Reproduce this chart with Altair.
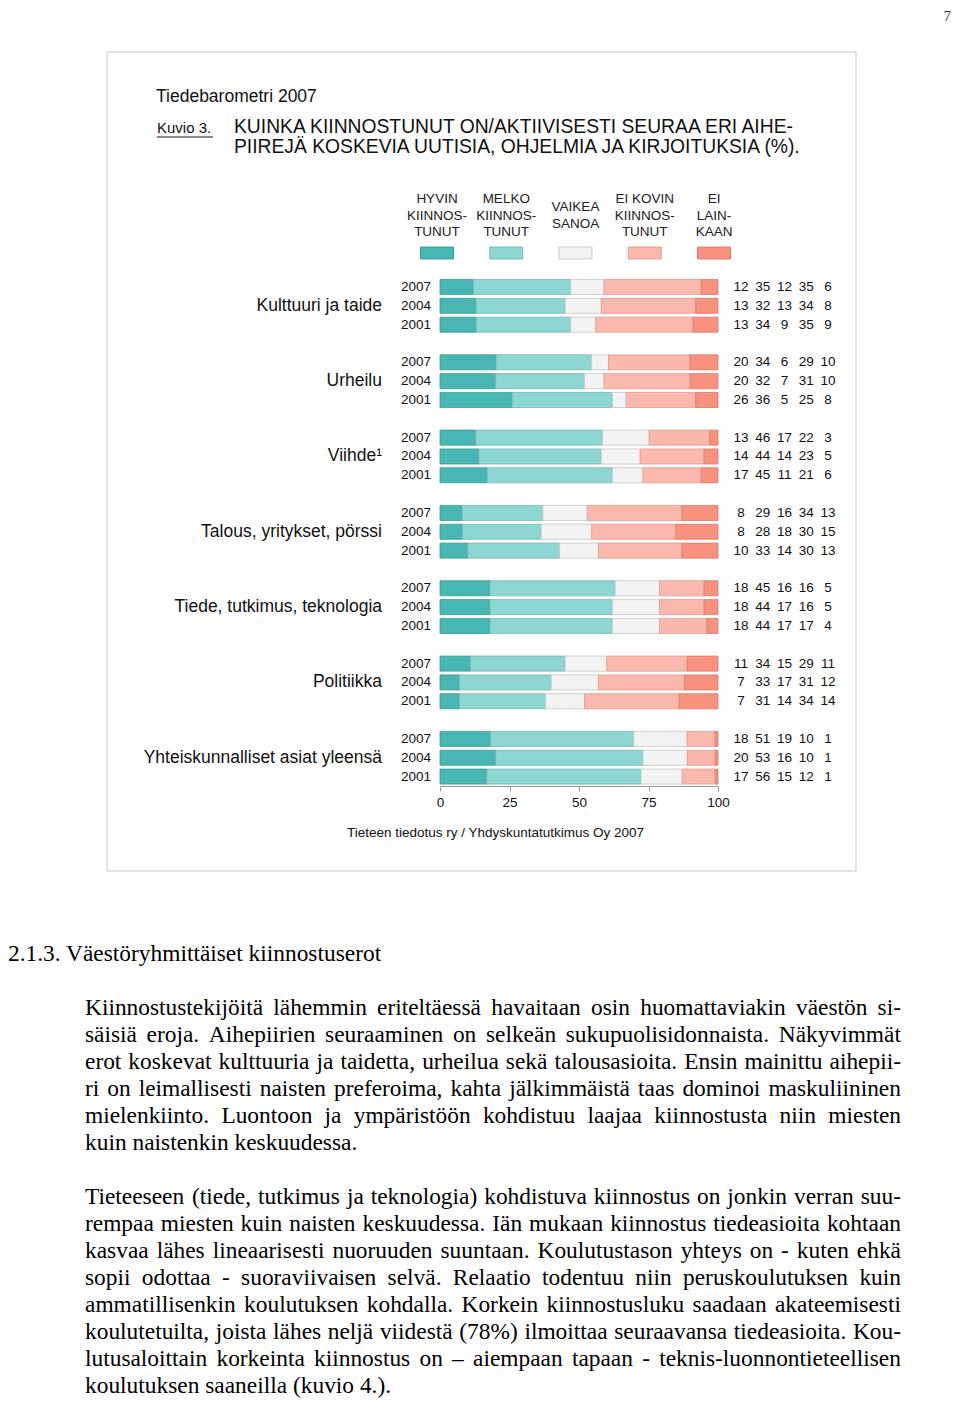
import altair as alt
import pandas as pd

# ---------------- data ----------------
topics = ["Kulttuuri ja taide", "Urheilu", "Viihde¹", "Talous, yritykset, pörssi",
          "Tiede, tutkimus, teknologia", "Politiikka", "Yhteiskunnalliset asiat yleensä"]
years = ["2007", "2004", "2001"]
cat_names = ["Hyvin kiinnostunut", "Melko kiinnostunut", "Vaikea sanoa",
             "Ei kovin kiinnostunut", "Ei lainkaan"]
cat_heads = ["HYVIN\nKIINNOS-\nTUNUT", "MELKO\nKIINNOS-\nTUNUT", "VAIKEA\nSANOA",
             "EI KOVIN\nKIINNOS-\nTUNUT", "EI\nLAIN-\nKAAN"]
# values per topic (2007, 2004, 2001)
hyvin   = [12, 13, 13, 20, 20, 26, 13, 14, 17,  8,  8, 10, 18, 18, 18, 11,  7,  7, 18, 20, 17]
melko   = [35, 32, 34, 34, 32, 36, 46, 44, 45, 29, 28, 33, 45, 44, 44, 34, 33, 31, 51, 53, 56]
vaikea  = [12, 13,  9,  6,  7,  5, 17, 14, 11, 16, 18, 14, 16, 17, 17, 15, 17, 14, 19, 16, 15]
eikovin = [35, 34, 35, 29, 31, 25, 22, 23, 21, 34, 30, 30, 16, 16, 17, 29, 31, 34, 10, 10, 12]
eilain  = [ 6,  8,  9, 10, 10,  8,  3,  5,  6, 13, 15, 13,  5,  5,  4, 11, 12, 14,  1,  1,  1]
axis_ticks = [0, 25, 50, 75, 100]

para1 = [
    "Kiinnostustekijöitä lähemmin eriteltäessä havaitaan osin huomattaviakin väestön si-",
    "säisiä eroja. Aihepiirien seuraaminen on selkeän sukupuolisidonnaista. Näkyvimmät",
    "erot koskevat kulttuuria ja taidetta, urheilua sekä talousasioita. Ensin mainittu aihepii-",
    "ri on leimallisesti naisten preferoima, kahta jälkimmäistä taas dominoi maskuliininen",
    "mielenkiinto. Luontoon ja ympäristöön kohdistuu laajaa kiinnostusta niin miesten",
    "kuin naistenkin keskuudessa.",
]
para2 = [
    "Tieteeseen (tiede, tutkimus ja teknologia) kohdistuva kiinnostus on jonkin verran suu-",
    "rempaa miesten kuin naisten keskuudessa. Iän mukaan kiinnostus tiedeasioita kohtaan",
    "kasvaa lähes lineaarisesti nuoruuden suuntaan. Koulutustason yhteys on - kuten ehkä",
    "sopii odottaa - suoraviivaisen selvä. Relaatio todentuu niin peruskoulutuksen kuin",
    "ammatillisenkin koulutuksen kohdalla. Korkein kiinnostusluku saadaan akateemisesti",
    "koulutetuilta, joista lähes neljä viidestä (78%) ilmoittaa seuraavansa tiedeasioita. Kou-",
    "lutusaloittain korkeinta kiinnostus on – aiempaan tapaan - teknis-luonnontieteellisen",
    "koulutuksen saaneilla (kuvio 4.).",
]

# ---------------- styling ----------------
colors = ["#48b6b2", "#8ed6d2", "#f3f3f3", "#fbb8ac", "#f8927f"]
strokes = ["#3a9d99", "#74bdb9", "#c8c8c8", "#e39d90", "#da7b6b"]
SANS = "Liberation Sans, Arial, sans-serif"
SERIF = "Liberation Serif, Times New Roman, serif"
W, H = 944, 1392


def P(v):
    """page pixel -> chart pixel (8px page margin)"""
    return v - 8


series = [hyvin, melko, vaikea, eikovin, eilain]
rows = []
for ti, t in enumerate(topics):
    for yi, yr in enumerate(years):
        for ci, c in enumerate(cat_names):
            rows.append(dict(topic=t, ti=ti, year=yr, yi=yi, cat=c, ci=ci,
                             value=series[ci][ti * 3 + yi]))
df = pd.DataFrame(rows)
legend_df = pd.DataFrame({"cat": cat_names, "head": cat_heads})
topic_df = pd.DataFrame({"topic": topics, "ti": list(range(len(topics)))})
one = pd.DataFrame({"a": [0]})

ROW_STEP = 18.83
XS = alt.Scale(domain=[0, 100], range=[P(440), P(718)], nice=False, zero=False)
YS = alt.Scale(domain=[0, 26], range=[P(287), P(287) + 26 * ROW_STEP], nice=False, zero=False)
CS = alt.Scale(domain=cat_names, range=colors)
SS = alt.Scale(domain=cat_names, range=strokes)
HX = alt.Scale(type="point", domain=cat_names, range=[P(437), P(714)], padding=0)
NX = alt.Scale(type="point", domain=cat_names, range=[P(741), P(828)], padding=0)

AXIS_Y = P(786)
HEAD_LH = 16.5


def label(text, x, y, size, font=SANS, align="left", baseline="middle", color="#111", **kw):
    return alt.Chart(one).mark_text(text=text, align=align, baseline=baseline, font=font,
                                    fontSize=size, color=color, **kw).encode(
        x=alt.value(x), y=alt.value(y))


box = alt.Chart(one).mark_rect(fill="white", stroke="#c8c8c8", strokeWidth=1).encode(
    x=alt.value(P(107)), x2=alt.value(P(856)), y=alt.value(P(52)), y2=alt.value(P(871)))

t_baro = label("Tiedebarometri 2007", P(156), P(97), 17.5)
t_kuvio = label("Kuvio 3.", P(157), P(128), 15)
kuvio_line = alt.Chart(one).mark_rule(color="#111", strokeWidth=1).encode(
    x=alt.value(P(157)), x2=alt.value(P(213)), y=alt.value(P(137)))
t_title1 = label("KUINKA KIINNOSTUNUT ON/AKTIIVISESTI SEURAA ERI AIHE-", P(234), P(127), 19.3)
t_title2 = label("PIIREJÄ KOSKEVIA UUTISIA, OHJELMIA JA KIRJOITUKSIA (%).", P(234), P(147), 19.3)

heads = alt.Chart(legend_df).transform_calculate(
    nl="length(split(datum.head, '\\n'))"
).transform_calculate(
    hy=f"{P(199)} + (3 - datum.nl) * {HEAD_LH} / 2"
).mark_text(
    lineBreak="\n", lineHeight=HEAD_LH, fontSize=13.5, font=SANS, color="#222",
    align="center", baseline="middle").encode(
    x=alt.X("cat:N", scale=HX, axis=None), y=alt.Y("hy:Q", scale=None), text="head:N")

swatches = alt.Chart(legend_df).mark_point(
    shape="M-1,-0.36L1,-0.36L1,0.36L-1,0.36Z", size=33 ** 2, filled=True, opacity=1,
    strokeWidth=1).encode(
    x=alt.X("cat:N", scale=HX, axis=None), y=alt.value(P(253)),
    color=alt.Color("cat:N", scale=CS, legend=None),
    stroke=alt.Stroke("cat:N", scale=SS, legend=None))

base = alt.Chart(df).transform_calculate(row="datum.ti * 4 + datum.yi")

bars = base.transform_joinaggregate(
    total="sum(value)", groupby=["topic", "year"]
).transform_window(
    cum="sum(value)", groupby=["topic", "year"], sort=[alt.SortField("ci")], frame=[None, 0]
).transform_calculate(
    x0="(datum.cum - datum.value) / datum.total * 100",
    x1="datum.cum / datum.total * 100",
    y0="datum.row - 0.4", y1="datum.row + 0.4"
).mark_rect(strokeWidth=0.8).encode(
    x=alt.X("x0:Q", scale=XS, axis=alt.Axis(
        values=axis_ticks, orient="bottom", offset=-(H - AXIS_Y), grid=False, title=None,
        domainColor="#9a9a9a", tickColor="#9a9a9a", tickSize=5, labelFontSize=13.5,
        labelFont=SANS, labelColor="#111", labelPadding=4, labelFlush=False, zindex=2)),
    x2="x1:Q",
    y=alt.Y("y0:Q", scale=YS, axis=None), y2="y1:Q",
    color=alt.Color("cat:N", scale=CS, legend=None),
    stroke=alt.Stroke("cat:N", scale=SS, legend=None))

year_labels = base.transform_filter("datum.ci == 0").mark_text(
    align="right", baseline="middle", fontSize=13.5, font=SANS, color="#111").encode(
    x=alt.value(P(431)), y=alt.Y("row:Q", scale=YS, axis=None), text="year:N")

numbers = base.mark_text(
    align="center", baseline="middle", fontSize=13.5, font=SANS, color="#111").encode(
    x=alt.X("cat:N", scale=NX, axis=None), y=alt.Y("row:Q", scale=YS, axis=None),
    text="value:Q")

topic_labels = alt.Chart(topic_df).transform_calculate(row="datum.ti * 4 + 1").mark_text(
    align="right", baseline="middle", fontSize=17.5, font=SANS, color="#111").encode(
    x=alt.value(P(382)), y=alt.Y("row:Q", scale=YS, axis=None), text="topic:N")

source = label("Tieteen tiedotus ry / Yhdyskuntatutkimus Oy 2007", P(495.5), P(833), 13.5,
               align="center")

page_no = label("7", W - 1, 1, 15, font=SERIF, align="right", baseline="top", color="#333")
heading = label("2.1.3. Väestöryhmittäiset kiinnostuserot", 0, P(954), 23.4, font=SERIF,
                color="#000")

# ---- justified body text (Times metrics) ----
TW = {' ': 250, '!': 333, '(': 333, ')': 333, '%': 833, ',': 250, '-': 333, '.': 250,
      ':': 278, '–': 500, 'ä': 444, 'ö': 500, 'Ä': 722, 'Ö': 722}
TW.update({d: 500 for d in "0123456789"})
TW.update(dict(zip("ABCDEFGHIJKLMNOPQRSTUVWXYZ",
                   [722, 667, 667, 722, 611, 556, 722, 722, 333, 389, 722, 611, 889, 722, 722,
                    556, 722, 667, 556, 611, 722, 722, 944, 722, 722, 611])))
TW.update(dict(zip("abcdefghijklmnopqrstuvwxyz",
                   [444, 500, 444, 500, 444, 333, 500, 500, 278, 278, 500, 278, 778, 500, 500,
                    500, 500, 333, 389, 278, 500, 500, 722, 500, 500, 444])))
BODY_SIZE = 23.4
LEFT, RIGHT = P(85), P(901)


def wwidth(s):
    return sum(TW.get(ch, 500) for ch in s) / 1000 * BODY_SIZE


words = []
line_no = 0
for para in (para1, para2):
    for i, line in enumerate(para):
        ws = line.split(" ")
        last = i == len(para) - 1
        if last or len(ws) == 1:
            gap = wwidth(" ")
        else:
            gap = (RIGHT - LEFT - sum(wwidth(w) for w in ws)) / (len(ws) - 1)
        x = LEFT
        for w in ws:
            words.append(dict(word=w, px=x, li=line_no))
            x += wwidth(w) + gap
        line_no += 1
    line_no += 1
words_df = pd.DataFrame(words)

body = alt.Chart(words_df).mark_text(
    align="left", baseline="middle", fontSize=BODY_SIZE, font=SERIF, color="#000").encode(
    x=alt.X("px:Q", scale=None),
    y=alt.Y("li:Q", scale=alt.Scale(domain=[0, 14], range=[P(1008), P(1386)], nice=False,
                                    zero=False), axis=None),
    text="word:N")

chart = alt.layer(
    box, t_baro, t_kuvio, kuvio_line, t_title1, t_title2, heads, swatches,
    bars, year_labels, numbers, topic_labels, source, page_no, heading, body
).resolve_scale(x="independent", y="independent").properties(
    width=W, height=H, padding=0, background="white",
    autosize=alt.AutoSizeParams(type="none")
).configure_view(stroke=None)

chart.save("out.html", embed_options={"renderer": "svg", "actions": False})
